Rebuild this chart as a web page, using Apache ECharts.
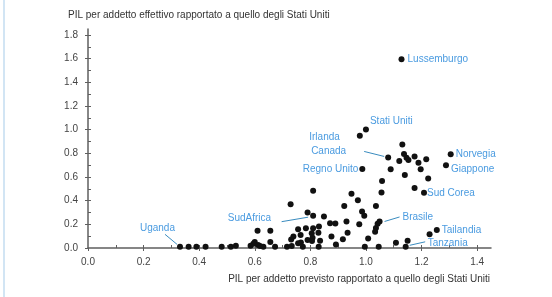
<!DOCTYPE html>
<html>
<head>
<meta charset="utf-8">
<script src="https://cdn.jsdelivr.net/npm/echarts@6/dist/echarts.min.js"></script>
<style>
html, body { margin: 0; padding: 0; background: #fff; }
#chart { width: 552px; height: 297px; }
#edge { position: absolute; left: 3px; top: 0; width: 2px; height: 297px; background: #d2e5f4; }
</style>
</head>
<body>
<div id="chart"></div>
<div id="edge"></div>
<script>
var myChart = echarts.init(document.getElementById('chart'));

var yTitle = 'PIL per addetto effettivo rapportato a quello degli Stati Uniti';
var xTitle = 'PIL per addetto previsto rapportato a quello degli Stati Uniti';

var xMajor = [0, 0.2, 0.4, 0.6, 0.8, 1.0, 1.2, 1.4];
var xMinor = [0.1, 0.2, 0.3, 0.4, 0.5, 0.6, 0.7, 0.8, 0.9, 1.0, 1.1, 1.2, 1.3, 1.4];
var yMajor = [0, 0.2, 0.4, 0.6, 0.8, 1.0, 1.2, 1.4, 1.6, 1.8];
var yMinor = [0.1, 0.2, 0.3, 0.4, 0.5, 0.6, 0.7, 0.8, 0.9, 1.0, 1.1, 1.2, 1.3, 1.4, 1.5, 1.6, 1.7, 1.8];

// labelled countries
var countryNames = ['Lussemburgo', 'Stati Uniti', 'Irlanda', 'Canada', 'Regno Unito', 'Norvegia', 'Giappone',
    'Sud Corea', 'Brasile', 'Tailandia', 'Tanzania', 'Uganda', 'SudAfrica'];
var countryX = [1.128, 1.0, 0.978, 1.08, 0.987, 1.305, 1.288, 1.209, 1.049, 1.255, 1.143, 0.331, 0.81];
var countryY = [1.595, 1.0, 0.949, 0.765, 0.668, 0.793, 0.70, 0.467, 0.224, 0.152, 0.01, 0.01, 0.273];

// other countries (no label)
var otherX = [0.362, 0.390, 0.423, 0.481, 0.514, 0.532, 0.585, 0.595, 0.60, 0.61, 0.656, 0.612, 0.619, 0.631,
    0.656, 0.673, 0.716, 0.733, 0.729, 0.739, 0.731, 0.756, 0.756, 0.765, 0.766, 0.773, 0.784, 0.79, 0.79,
    0.81, 0.81, 0.805, 0.808, 0.806, 0.829, 0.835, 0.831, 0.83, 0.849, 0.871, 0.89, 0.876, 0.892, 0.917,
    0.934, 0.93, 0.922, 0.948, 0.971, 0.986, 0.994, 0.976, 0.996, 1.008, 1.036, 1.036, 1.033, 1.042, 1.046,
    1.056, 1.058, 1.089, 1.131, 1.137, 1.146, 1.12, 1.175, 1.153, 1.189, 1.217, 1.14, 1.197, 1.224, 1.175,
    1.108, 1.15, 1.229];
var otherY = [0.01, 0.01, 0.01, 0.01, 0.01, 0.02, 0.02, 0.035, 0.05, 0.145, 0.145, 0.025, 0.017, 0.01,
    0.05, 0.01, 0.01, 0.017, 0.37, 0.097, 0.072, 0.04, 0.158, 0.11, 0.046, 0.01, 0.167, 0.30, 0.068,
    0.167, 0.484, 0.124, 0.087, 0.059, 0.129, 0.062, 0.182, 0.01, 0.266, 0.209, 0.207, 0.097, 0.03, 0.074,
    0.128, 0.224, 0.355, 0.458, 0.404, 0.309, 0.273, 0.201, 0.01, 0.08, 0.355, 0.169, 0.138, 0.205, 0.01,
    0.469, 0.566, 0.665, 0.875, 0.795, 0.762, 0.735, 0.772, 0.744, 0.721, 0.75, 0.617, 0.665, 0.587, 0.507,
    0.045, 0.061, 0.117];

// label placement; 'lead' = leader line ends, pixel offsets from the dot [dx1, dy1, dx2, dy2]
var labelPlace = {
    'Lussemburgo': {position: 'right', distance: 3},
    'Stati Uniti': {position: 'right', distance: 1, offset: [0, -8]},
    'Irlanda': {position: 'left', distance: 17, offset: [0, 2]},
    'Canada': {position: 'left', distance: 39, offset: [0, -6], lead: [-24, -6, -4, -1]},
    'Regno Unito': {position: 'left', distance: 1},
    'Norvegia': {position: 'right', distance: 2},
    'Giappone': {position: 'right', distance: 2, offset: [0, 4]},
    'Sud Corea': {position: 'right', distance: 0, offset: [0, 1]},
    'Brasile': {position: 'right', distance: 20, offset: [0, -4], lead: [5, 0, 20, -4.5]},
    'Tailandia': {position: 'right', distance: 2},
    'Tanzania': {position: 'right', distance: 19, offset: [0, -4], lead: [4, -1.5, 19.5, -5]},
    'Uganda': {position: 'left', distance: 2, offset: [0, -19], lead: [-15, -12.5, -3, -2.5]},
    'SudAfrica': {position: 'left', distance: 39, offset: [0, 3], lead: [-31.5, 6, -5, 1.5]}
};

var font = 'Liberation Sans, Arial, sans-serif';
var axisColor = '#5f5f5f';
var blue = '#4a9be0';
var leadColor = '#3a8cbf';

var points = [];
for (var i = 0; i < otherX.length; i++) {
    points.push([otherX[i], otherY[i]]);
}
var leaders = [];
for (var j = 0; j < countryNames.length; j++) {
    var p = labelPlace[countryNames[j]];
    points.push({
        name: countryNames[j],
        value: [countryX[j], countryY[j]],
        label: {
            show: true,
            formatter: '{b}',
            position: p.position,
            distance: p.distance,
            offset: p.offset || [0, 0]
        }
    });
    if (p.lead) {
        leaders.push({value: [countryX[j], countryY[j]], lead: p.lead});
    }
}

function fmt(v) {
    return v.toFixed(1);
}

myChart.setOption({
    backgroundColor: '#fff',
    animation: false,
    title: [
        {
            text: yTitle, left: 68, top: 10, padding: 0,
            textStyle: {fontSize: 10, fontWeight: 'normal', color: '#333', fontFamily: font}
        },
        {
            text: xTitle, right: 62, top: 274, padding: 0,
            textStyle: {fontSize: 10, fontWeight: 'normal', color: '#333', fontFamily: font}
        }
    ],
    grid: {left: 88, right: 61, top: 29, bottom: 49},
    xAxis: [
        {
            type: 'value', min: 0, max: 1.45, interval: 0.2,
            axisLine: {lineStyle: {color: axisColor, width: 1.5}},
            axisTick: {customValues: xMajor, length: 3, lineStyle: {color: axisColor}},
            axisLabel: {customValues: xMajor, formatter: fmt, margin: 9, fontSize: 10, color: '#444', fontFamily: font},
            splitLine: {show: false}
        },
        {
            type: 'value', position: 'bottom', min: 0, max: 1.45, interval: 0.2,
            axisLine: {show: false},
            axisTick: {inside: true, customValues: xMinor, length: 3, lineStyle: {color: axisColor}},
            axisLabel: {show: false},
            splitLine: {show: false}
        }
    ],
    yAxis: [
        {
            type: 'value', min: 0, max: 1.85, interval: 0.2,
            axisLine: {show: true, lineStyle: {color: axisColor, width: 1.5}},
            axisTick: {show: true, customValues: yMajor, length: 3, lineStyle: {color: axisColor}},
            axisLabel: {customValues: yMajor, formatter: fmt, margin: 10, fontSize: 10, color: '#444', fontFamily: font},
            splitLine: {show: false}
        },
        {
            type: 'value', position: 'left', min: 0, max: 1.85, interval: 0.2,
            axisLine: {show: false},
            axisTick: {show: true, inside: true, customValues: yMinor, length: 3, lineStyle: {color: axisColor}},
            axisLabel: {show: false},
            splitLine: {show: false}
        }
    ],
    series: [
        {
            type: 'custom',
            xAxisIndex: 0,
            yAxisIndex: 0,
            silent: true,
            data: leaders,
            renderItem: function (params, api) {
                var c = api.coord([api.value(0), api.value(1)]);
                var d = leaders[params.dataIndex].lead;
                return {
                    type: 'line',
                    shape: {x1: c[0] + d[0], y1: c[1] + d[1], x2: c[0] + d[2], y2: c[1] + d[3]},
                    style: {stroke: leadColor, lineWidth: 1}
                };
            }
        },
        {
            type: 'scatter',
            xAxisIndex: 0,
            yAxisIndex: 0,
            symbolSize: 6,
            itemStyle: {color: '#111', opacity: 1},
            label: {show: false, fontSize: 10, color: blue, fontFamily: font},
            emphasis: {disabled: true},
            data: points
        }
    ]
});
</script>
</body>
</html>
